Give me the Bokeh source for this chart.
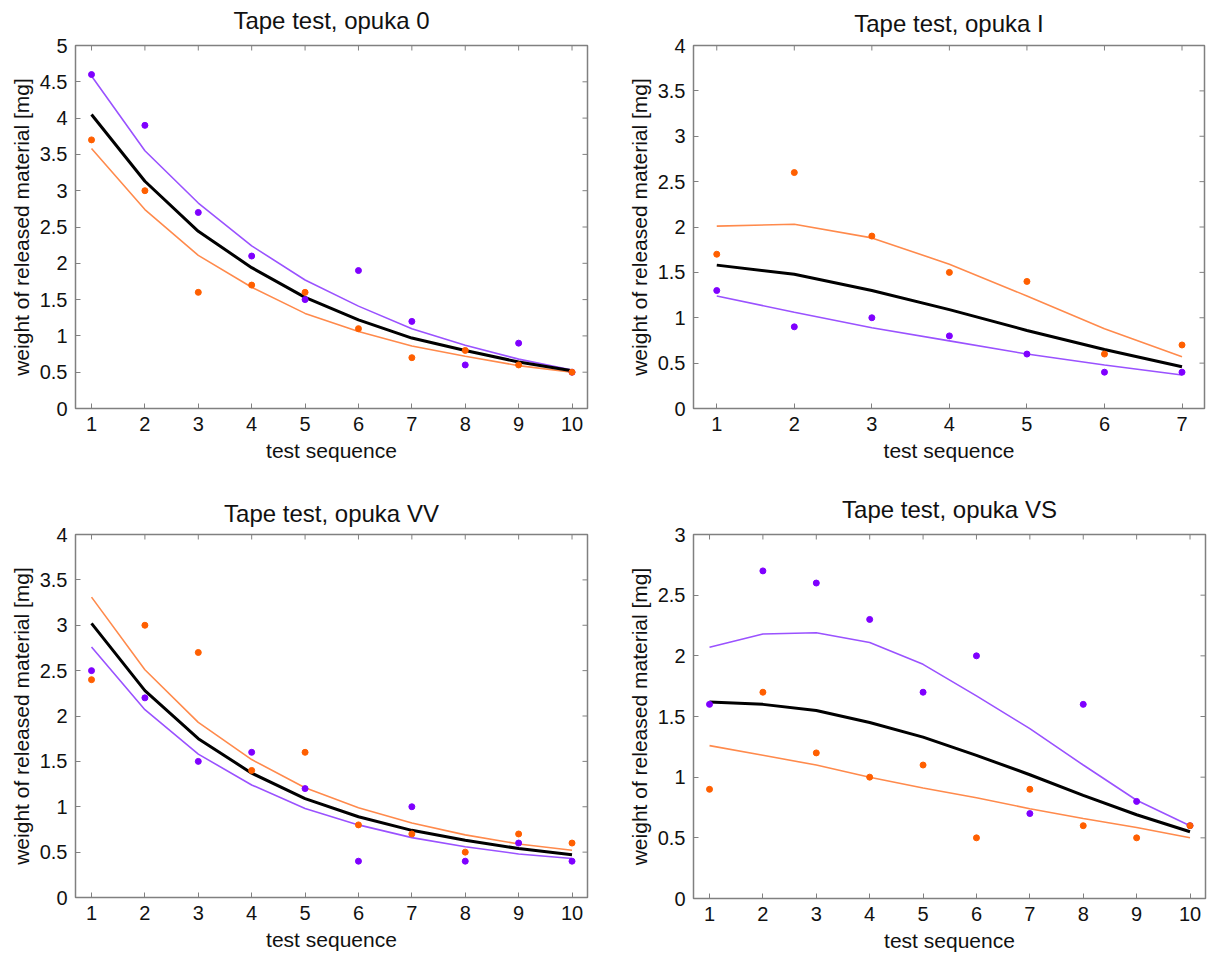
import math
from bokeh.plotting import figure
from bokeh.layouts import gridplot
from bokeh.models import FixedTicker, CustomJSTickFormatter, Range1d, LinearAxis
from bokeh.embed import file_html
from bokeh.resources import INLINE

# ---------------- data ----------------
seq10 = [1, 2, 3, 4, 5, 6, 7, 8, 9, 10]
seq7 = [1, 2, 3, 4, 5, 6, 7]

titles = ["Tape test, opuka 0", "Tape test, opuka I", "Tape test, opuka VV", "Tape test, opuka VS"]
x_label = "test sequence"
y_label = "weight of released material [mg]"

yticks_5 = [0, 0.5, 1, 1.5, 2, 2.5, 3, 3.5, 4, 4.5, 5]
yticks_4 = [0, 0.5, 1, 1.5, 2, 2.5, 3, 3.5, 4]
yticks_3 = [0, 0.5, 1, 1.5, 2, 2.5, 3]

# opuka 0
o0_purple_pts = [4.6, 3.9, 2.7, 2.1, 1.5, 1.9, 1.2, 0.6, 0.9, 0.5]
o0_orange_pts = [3.7, 3.0, 1.6, 1.7, 1.6, 1.1, 0.7, 0.8, 0.6, 0.5]
o0_purple_fit = [4.58, 3.55, 2.83, 2.24, 1.77, 1.41, 1.10, 0.87, 0.68, 0.53]
o0_black_fit = [4.05, 3.13, 2.44, 1.94, 1.53, 1.22, 0.97, 0.80, 0.64, 0.52]
o0_orange_fit = [3.58, 2.74, 2.11, 1.67, 1.31, 1.06, 0.86, 0.72, 0.59, 0.50]

# opuka I
o1_purple_pts = [1.3, 0.9, 1.0, 0.8, 0.6, 0.4, 0.4]
o1_orange_pts = [1.7, 2.6, 1.9, 1.5, 1.4, 0.6, 0.7]
o1_purple_fit = [1.24, 1.06, 0.89, 0.745, 0.60, 0.48, 0.37]
o1_black_fit = [1.58, 1.48, 1.30, 1.09, 0.86, 0.65, 0.46]
o1_orange_fit = [2.01, 2.03, 1.88, 1.59, 1.24, 0.88, 0.57]

# opuka VV
ovv_purple_pts = [2.5, 2.2, 1.5, 1.6, 1.2, 0.4, 1.0, 0.4, 0.6, 0.4]
ovv_orange_pts = [2.4, 3.0, 2.7, 1.4, 1.6, 0.8, 0.7, 0.5, 0.7, 0.6]
ovv_purple_fit = [2.76, 2.07, 1.58, 1.24, 0.98, 0.80, 0.66, 0.56, 0.48, 0.43]
ovv_black_fit = [3.02, 2.28, 1.75, 1.37, 1.09, 0.89, 0.74, 0.63, 0.54, 0.47]
ovv_orange_fit = [3.31, 2.51, 1.93, 1.52, 1.21, 0.99, 0.82, 0.69, 0.59, 0.52]

# opuka VS
ovs_purple_pts = [1.6, 2.7, 2.6, 2.3, 1.7, 2.0, 0.7, 1.6, 0.8, 0.6]
ovs_orange_pts = [0.9, 1.7, 1.2, 1.0, 1.1, 0.5, 0.9, 0.6, 0.5, 0.6]
ovs_purple_fit = [2.07, 2.18, 2.19, 2.11, 1.93, 1.67, 1.40, 1.10, 0.81, 0.60]
ovs_black_fit = [1.62, 1.60, 1.55, 1.45, 1.33, 1.18, 1.02, 0.85, 0.69, 0.55]
ovs_orange_fit = [1.26, 1.18, 1.10, 1.00, 0.91, 0.83, 0.74, 0.66, 0.585, 0.50]

# ---------------- style ----------------
FONT = "Liberation Sans"
PURPLE_PT = "#7f00ff"
PURPLE_LN = "#9a52ff"
ORANGE_PT = "#ff5f00"
ORANGE_LN = "#ff8a4c"
FRAME = "#808080"
TXT = "#111111"
fmt_code = "return String(tick)"


def make_panel(title, xs, ymax, yticks, purple_pts, orange_pts, purple_fit, black_fit, orange_fit,
               width, height, bl, br, bt, bb, title_standoff):
    xmax = xs[-1] + 0.29
    p = figure(width=width, height=height, output_backend="svg", toolbar_location=None,
               x_range=Range1d(0.7, xmax), y_range=Range1d(0, ymax),
               x_axis_location=None, y_axis_location=None,
               min_border_left=bl, min_border_right=br, min_border_top=bt, min_border_bottom=bb)
    p.frame_width = width - bl - br
    p.frame_height = height - bt - bb
    p.grid.visible = False
    p.outline_line_color = FRAME
    p.outline_line_width = 1.5
    p.background_fill_color = "white"
    p.border_fill_color = "white"

    xa = LinearAxis(ticker=FixedTicker(ticks=xs), axis_label=x_label, axis_label_standoff=5)
    ya = LinearAxis(ticker=FixedTicker(ticks=yticks), axis_label=y_label, axis_label_standoff=4)
    for ax in (xa, ya):
        ax.formatter = CustomJSTickFormatter(code=fmt_code)
        ax.axis_line_color = None
        ax.major_tick_in = 5
        ax.major_tick_out = 0
        ax.major_tick_line_color = FRAME
        ax.major_tick_line_width = 1
        ax.minor_tick_line_color = None
        ax.major_label_text_font = FONT
        ax.major_label_text_font_size = "20px"
        ax.major_label_text_color = TXT
        ax.major_label_standoff = 8
        ax.axis_label_text_font = FONT
        ax.axis_label_text_font_size = "21px"
        ax.axis_label_text_font_style = "normal"
        ax.axis_label_text_color = TXT
    p.add_layout(xa, "below")
    p.add_layout(ya, "left")

    # panel title, set as the label of a tick-less axis above the frame
    title_axis = LinearAxis(ticker=FixedTicker(ticks=[]), axis_label=title,
                            axis_line_color=None, major_tick_in=0, major_tick_out=0,
                            minor_tick_line_color=None, major_label_standoff=0,
                            axis_label_standoff=title_standoff,
                            axis_label_text_font=FONT, axis_label_text_font_size="24px",
                            axis_label_text_font_style="normal", axis_label_text_color=TXT)
    p.add_layout(title_axis, "above")

    # mirrored inner tick marks on the top and right frame edges (half of each dash is clipped)
    p.scatter(xs, [ymax] * len(xs), marker="dash", size=10, angle=math.pi / 2,
              line_color=FRAME, line_width=1)
    p.scatter([xmax] * len(yticks), yticks, marker="dash", size=10,
              line_color=FRAME, line_width=1)

    p.line(xs, orange_fit, line_color=ORANGE_LN, line_width=1.6)
    p.line(xs, purple_fit, line_color=PURPLE_LN, line_width=1.6)
    p.line(xs, black_fit, line_color="black", line_width=3)
    p.scatter(xs, purple_pts, size=6, fill_color=PURPLE_PT, line_color=PURPLE_PT)
    p.scatter(xs, orange_pts, size=6, fill_color=ORANGE_PT, line_color=ORANGE_PT)
    return p


p1 = make_panel(titles[0], seq10, 5, yticks_5, o0_purple_pts, o0_orange_pts,
                o0_purple_fit, o0_black_fit, o0_orange_fit,
                600, 470, 75, 13, 45, 62, 12)
p2 = make_panel(titles[1], seq7, 4, yticks_4, o1_purple_pts, o1_orange_pts,
                o1_purple_fit, o1_black_fit, o1_orange_fit,
                607, 470, 93, 3, 45, 62, 9)
p3 = make_panel(titles[2], seq10, 4, yticks_4, ovv_purple_pts, ovv_orange_pts,
                ovv_purple_fit, ovv_black_fit, ovv_orange_fit,
                600, 475, 75, 13, 64, 48, 8)
p4 = make_panel(titles[3], seq10, 3, yticks_3, ovs_purple_pts, ovs_orange_pts,
                ovs_purple_fit, ovs_black_fit, ovs_orange_fit,
                607, 475, 92, 3, 63, 48, 12)

grid = gridplot([[p1, p2], [p3, p4]], toolbar_location=None)

open("out.html", "w").write(file_html(grid, INLINE))
